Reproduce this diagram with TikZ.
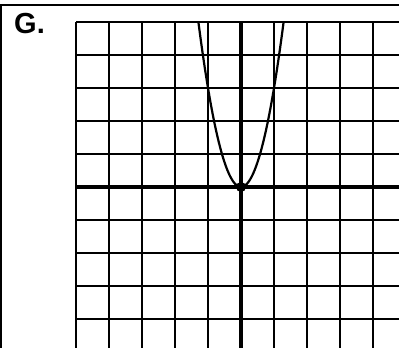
\documentclass[tikz,border=0pt]{standalone}
\usepackage{fontspec}
\setmainfont{Liberation Sans}
\begin{document}
\begin{tikzpicture}[x=1pt,y=1pt,
  gridline/.style={line width=1.4pt,black},
  axisline/.style={line width=3.6pt,black},
  frameline/.style={line width=2.2pt,black},
  curveline/.style={line width=2.2pt,black},
  label/.style={font=\fontsize{29}{29}\selectfont\bfseries,inner sep=0pt,anchor=base west}]
\useasboundingbox (0,0) rectangle (399,-348);
\begin{scope}
\clip (0,0) rectangle (399,-348);
% grid
\foreach \k in {0,...,10} {
  \draw[gridline] ({76+33*\k},-22) -- ({76+33*\k},-348);
  \draw[gridline] (76,{-22-33*\k}) -- (399,{-22-33*\k});
}
% axes
\draw[axisline] (76,-187) -- (399,-187);
\draw[axisline] (241,-22) -- (241,-348);
% parabola
\draw[curveline,samples=80,domain=-1.29:1.29,smooth] plot ({241+33*\x},{-(187-99*\x*\x)});
\fill (241,-187) circle (5);
% frame
\draw[frameline] (0,-5) -- (399,-5);
\draw[frameline] (1,-5) -- (1,-348);
\end{scope}
\node[label] (g) at (14,-34) {G.};
\end{tikzpicture}
\end{document}
